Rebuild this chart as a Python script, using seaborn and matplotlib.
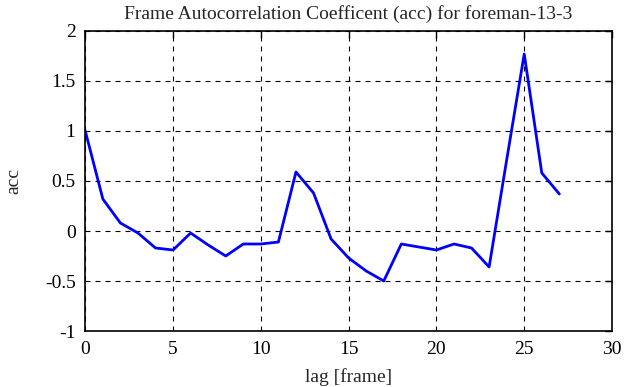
import numpy as np
import pandas as pd
import seaborn as sns
import matplotlib.pyplot as plt

# lag values and autocorrelation
lag = list(range(28))
acc = [1.0, 0.32, 0.08, -0.02, -0.17, -0.19, -0.02, -0.14, -0.25, -0.13,
       -0.13, -0.11, 0.59, 0.38, -0.08, -0.27, -0.40, -0.50, -0.13, -0.16,
       -0.19, -0.13, -0.17, -0.36, 0.71, 1.77, 0.58, 0.37]

x_ticks = [0, 5, 10, 15, 20, 25, 30]
y_ticks = [-1, -0.5, 0, 0.5, 1, 1.5, 2]
y_labels = ["-1", "-0.5", "0", "0.5", "1", "1.5", "2"]

sns.set_style("white")
plt.rcParams["font.family"] = ["Liberation Serif", "DejaVu Serif"]
fs = 14

df = pd.DataFrame({"lag": lag, "acc": acc})

fig = plt.figure(figsize=(6.35, 3.87), dpi=100)
ax = fig.add_axes([0.1343, 0.1447, 0.8295, 0.7752])

sns.lineplot(data=df, x="lag", y="acc", color="#0000ff", linewidth=2.0, ax=ax)

ax.set_xlim(0, 30)
ax.set_ylim(-1, 2)
ax.set_xticks(x_ticks)
ax.set_xticklabels([str(t) for t in x_ticks])
ax.set_yticks(y_ticks)
ax.set_yticklabels(y_labels)
ax.grid(True, color="black", linestyle=(0, (4.5, 4.5)), linewidth=0.8)
ax.tick_params(direction="in", top=True, right=True, length=5, width=1,
               colors="black", labelsize=fs, pad=7)
for s in ax.spines.values():
    s.set_color("black")
    s.set_linewidth(1.2)

ax.set_xlabel("lag [frame]", fontsize=fs)
ax.set_ylabel("acc", fontsize=fs, va="center")
ax.xaxis.set_label_coords(0.5, -0.125)
ax.yaxis.set_label_coords(-0.135, 0.5)
ax.set_title("Frame Autocorrelation Coefficent (acc) for foreman-13-3",
             fontsize=fs, pad=9)

fig.savefig("out.png", dpi=100)
